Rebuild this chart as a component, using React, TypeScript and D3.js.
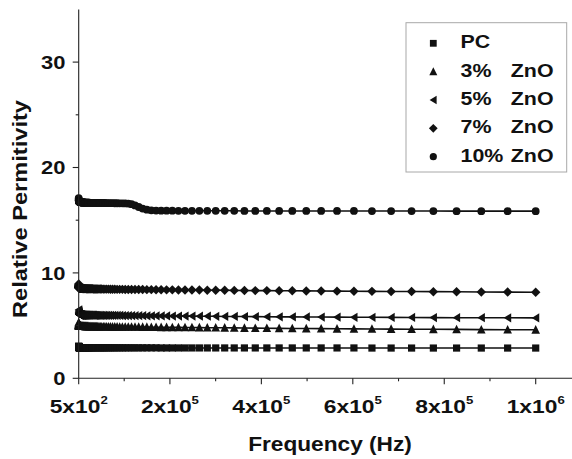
import React from "react";
import * as d3 from "d3";

// Frequency sweep of the impedance analyser (logarithmic, 500 Hz to 1 MHz)
const FREQ_START = 500;
const FREQ_STOP = 1e6;

const SERIES_NAMES = ["PC", "3%  ZnO", "5%  ZnO", "7%  ZnO", "10% ZnO"];

const PC = [
  3.05, 3.02, 3.0, 2.99, 2.98, 2.97, 2.96, 2.96, 2.95, 2.95, 2.94,
  2.94, 2.94, 2.93, 2.93, 2.93, 2.92, 2.92, 2.92, 2.92, 2.91, 2.91,
  2.91, 2.91, 2.91, 2.91, 2.9, 2.9, 2.9, 2.9, 2.9, 2.9, 2.9,
  2.9, 2.9, 2.9, 2.9, 2.9, 2.9, 2.9, 2.9, 2.9, 2.9, 2.9,
  2.9, 2.9, 2.9, 2.9, 2.9, 2.9, 2.9, 2.9, 2.9, 2.9, 2.9,
  2.9, 2.9, 2.9, 2.9, 2.9, 2.9, 2.9, 2.9, 2.9, 2.9, 2.9,
  2.9, 2.9, 2.9, 2.9, 2.9, 2.89, 2.89, 2.89, 2.89, 2.89, 2.89,
  2.89, 2.89, 2.89, 2.89, 2.89, 2.89, 2.89, 2.89, 2.89, 2.89, 2.89,
  2.89, 2.89, 2.89, 2.89, 2.89, 2.88, 2.88, 2.88, 2.88, 2.88, 2.88,
  2.88, 2.88, 2.88, 2.88, 2.88, 2.88, 2.88, 2.88, 2.88, 2.88, 2.88,
  2.88, 2.88, 2.88, 2.87, 2.87, 2.87, 2.87, 2.87, 2.87, 2.87, 2.87,
];

const ZNO_3 = [
  5.3, 5.22, 5.16, 5.12, 5.09, 5.07, 5.05, 5.04, 5.03, 5.02, 5.01,
  5.0, 5.0, 4.99, 4.99, 4.99, 4.98, 4.98, 4.98, 4.98, 4.97, 4.97,
  4.97, 4.97, 4.97, 4.97, 4.96, 4.96, 4.96, 4.96, 4.96, 4.96, 4.96,
  4.96, 4.96, 4.95, 4.95, 4.95, 4.95, 4.95, 4.95, 4.95, 4.95, 4.95,
  4.95, 4.95, 4.94, 4.94, 4.94, 4.94, 4.94, 4.94, 4.94, 4.93, 4.93,
  4.93, 4.93, 4.93, 4.93, 4.93, 4.92, 4.92, 4.92, 4.92, 4.92, 4.92,
  4.92, 4.91, 4.91, 4.91, 4.91, 4.91, 4.9, 4.9, 4.9, 4.9, 4.9,
  4.9, 4.89, 4.89, 4.89, 4.89, 4.88, 4.88, 4.88, 4.88, 4.87, 4.87,
  4.87, 4.86, 4.86, 4.85, 4.85, 4.84, 4.84, 4.83, 4.83, 4.82, 4.82,
  4.81, 4.8, 4.8, 4.79, 4.78, 4.77, 4.76, 4.75, 4.74, 4.73, 4.72,
  4.71, 4.7, 4.69, 4.68, 4.67, 4.66, 4.65, 4.64, 4.62, 4.61, 4.6,
];

const ZNO_5 = [
  6.5, 6.4, 6.32, 6.26, 6.22, 6.18, 6.15, 6.13, 6.12, 6.1, 6.09,
  6.08, 6.07, 6.07, 6.06, 6.06, 6.05, 6.05, 6.05, 6.04, 6.04, 6.04,
  6.04, 6.03, 6.03, 6.03, 6.03, 6.03, 6.02, 6.02, 6.02, 6.02, 6.02,
  6.02, 6.02, 6.01, 6.01, 6.01, 6.01, 6.01, 6.01, 6.01, 6.0, 6.0,
  6.0, 6.0, 6.0, 6.0, 6.0, 6.0, 6.0, 6.0, 6.0, 6.0, 6.0,
  6.0, 6.0, 6.0, 5.99, 5.99, 5.99, 5.99, 5.99, 5.99, 5.99, 5.99,
  5.99, 5.98, 5.98, 5.98, 5.98, 5.98, 5.98, 5.97, 5.97, 5.97, 5.97,
  5.97, 5.97, 5.96, 5.96, 5.96, 5.96, 5.95, 5.95, 5.95, 5.95, 5.94,
  5.94, 5.94, 5.93, 5.93, 5.93, 5.92, 5.92, 5.91, 5.91, 5.9, 5.9,
  5.89, 5.89, 5.88, 5.87, 5.87, 5.86, 5.85, 5.84, 5.83, 5.83, 5.82,
  5.81, 5.8, 5.79, 5.79, 5.78, 5.77, 5.76, 5.75, 5.75, 5.74, 5.73,
];

const ZNO_7 = [
  8.95, 8.85, 8.78, 8.73, 8.7, 8.67, 8.65, 8.64, 8.63, 8.62, 8.61,
  8.61, 8.6, 8.6, 8.59, 8.59, 8.59, 8.58, 8.58, 8.58, 8.57, 8.57,
  8.57, 8.57, 8.56, 8.56, 8.56, 8.56, 8.56, 8.55, 8.55, 8.55, 8.55,
  8.55, 8.55, 8.54, 8.54, 8.54, 8.54, 8.54, 8.53, 8.53, 8.53, 8.53,
  8.53, 8.53, 8.52, 8.52, 8.52, 8.52, 8.52, 8.51, 8.51, 8.51, 8.51,
  8.51, 8.5, 8.5, 8.5, 8.5, 8.5, 8.49, 8.49, 8.49, 8.49, 8.49,
  8.48, 8.48, 8.48, 8.48, 8.47, 8.47, 8.47, 8.47, 8.46, 8.46, 8.46,
  8.46, 8.45, 8.45, 8.45, 8.44, 8.44, 8.44, 8.43, 8.43, 8.43, 8.42,
  8.42, 8.42, 8.41, 8.41, 8.4, 8.4, 8.39, 8.39, 8.38, 8.38, 8.37,
  8.37, 8.36, 8.35, 8.35, 8.34, 8.33, 8.32, 8.32, 8.31, 8.3, 8.29,
  8.28, 8.27, 8.26, 8.25, 8.24, 8.23, 8.22, 8.21, 8.19, 8.18, 8.17,
];

const ZNO_10 = [
  17.1, 17.0, 16.94, 16.9, 16.87, 16.85, 16.83, 16.82, 16.81, 16.8, 16.79,
  16.79, 16.78, 16.78, 16.77, 16.77, 16.76, 16.76, 16.76, 16.75, 16.75, 16.75,
  16.74, 16.74, 16.74, 16.73, 16.73, 16.73, 16.73, 16.72, 16.72, 16.72, 16.72,
  16.71, 16.71, 16.71, 16.71, 16.7, 16.7, 16.7, 16.7, 16.7, 16.69, 16.69,
  16.69, 16.69, 16.69, 16.68, 16.68, 16.68, 16.68, 16.68, 16.67, 16.67, 16.67,
  16.67, 16.67, 16.66, 16.66, 16.66, 16.66, 16.66, 16.65, 16.65, 16.65, 16.65,
  16.65, 16.64, 16.64, 16.64, 16.64, 16.64, 16.63, 16.63, 16.63, 16.63, 16.62,
  16.62, 16.62, 16.62, 16.61, 16.61, 16.6, 16.6, 16.59, 16.58, 16.52, 16.4,
  16.25, 16.1, 16.0, 15.94, 15.91, 15.9, 15.9, 15.9, 15.89, 15.89, 15.89,
  15.89, 15.89, 15.89, 15.89, 15.89, 15.88, 15.88, 15.88, 15.88, 15.88, 15.88,
  15.88, 15.88, 15.88, 15.87, 15.87, 15.87, 15.87, 15.86, 15.86, 15.86, 15.86,
];

const X_TICKS = [500, 2e5, 4e5, 6e5, 8e5, 1e6];
const X_TICK_MANTISSA = ["5", "2", "4", "6", "8", "1"];
const X_TICK_EXPONENT = ["2", "5", "5", "5", "5", "6"];
const X_MINOR_TICKS = [1e5, 3e5, 5e5, 7e5, 9e5, 1.1e6];
const Y_TICKS = [0, 10, 20, 30];
const Y_MINOR_TICKS = [5, 15, 25];

const W = 572;
const H = 459;
const FONT = "'Liberation Sans', Arial, Helvetica, sans-serif";
const INK = "#111";

type ShapeFn = (r: number) => string;

// Marker outlines, r = half of the marker's extent
const SHAPES: ShapeFn[] = [
  (r) => `M${-r},${-r}H${r}V${r}H${-r}Z`,
  (r) => `M0,${-r * 1.1}L${r},${r * 0.9}L${-r},${r * 0.9}Z`,
  (r) => `M${-r * 0.95},0L${r * 0.85},${-r * 1.1}L${r * 0.85},${r * 1.1}Z`,
  (r) => `M0,${-r * 1.15}L${r * 1.15},0L0,${r * 1.15}L${-r * 1.15},0Z`,
  (r) => `M${r},0A${r},${r} 0 1,1 ${-r},0A${r},${r} 0 1,1 ${r},0Z`,
];
const MARKER_R = [3.6, 4.3, 4.2, 4.1, 3.9];
const LEGEND_R = [3.4, 4.0, 3.9, 3.8, 3.6];

const SERIES_VALUES = [PC, ZNO_3, ZNO_5, ZNO_7, ZNO_10];

function StretchText(props: {
  x: number;
  y: number;
  sx: number;
  size: number;
  anchor?: string;
  children: React.ReactNode;
}) {
  const { x, y, sx, size, anchor = "start", children } = props;
  return (
    <g transform={`translate(${x},${y}) scale(${sx},1)`}>
      <text
        x={0}
        y={0}
        textAnchor={anchor}
        fontFamily={FONT}
        fontWeight="bold"
        fontSize={size}
        fill={INK}
      >
        {children}
      </text>
    </g>
  );
}

export default function App() {
  const x = d3.scaleLinear().domain([FREQ_START, FREQ_STOP]).range([78.7, 535.7]);
  const y = d3.scaleLinear().domain([0, 35]).range([378.3, 9.4]);

  const nPts = PC.length;
  const freqs = d3
    .range(nPts)
    .map((i) => FREQ_START * Math.pow(FREQ_STOP / FREQ_START, i / (nPts - 1)));

  const line = d3
    .line<number>()
    .x((_, i) => x(freqs[i]))
    .y((v) => y(v));

  const xAxisY = y(0);
  const yAxisX = x(FREQ_START);
  const xEnd = x(1.1e6);

  const legendTop = 43.3;
  const legendStep = 28.35;

  return (
    <svg
      width={W}
      height={H}
      viewBox={`0 0 ${W} ${H}`}
      style={{ position: "absolute", left: 0, top: 0, background: "#fff" }}
    >
      <rect x={0} y={0} width={W} height={H} fill="#fff" />

      {/* series */}
      {SERIES_VALUES.map((vals, s) => (
        <g key={SERIES_NAMES[s]}>
          <path d={line(vals) || ""} fill="none" stroke={INK} strokeWidth={1.6} />
          {vals.map((v, i) => (
            <path
              key={i}
              d={SHAPES[s](MARKER_R[s])}
              transform={`translate(${x(freqs[i])},${y(v)})`}
              fill={INK}
            />
          ))}
        </g>
      ))}

      {/* y axis */}
      <line x1={yAxisX} x2={yAxisX} y1={y(35)} y2={xAxisY} stroke="#222" strokeWidth={1.1} />
      {Y_TICKS.map((t) => (
        <g key={`yt${t}`}>
          <line x1={yAxisX - 6} x2={yAxisX} y1={y(t)} y2={y(t)} stroke="#222" strokeWidth={1.1} />
          <StretchText x={65.5} y={y(t) + 6.7} sx={1.18} size={18.6} anchor="end">
            {t}
          </StretchText>
        </g>
      ))}
      {Y_MINOR_TICKS.map((t) => (
        <line key={`ym${t}`} x1={yAxisX - 3} x2={yAxisX} y1={y(t)} y2={y(t)} stroke="#222" strokeWidth={1.1} />
      ))}

      {/* x axis */}
      <line x1={yAxisX} x2={xEnd} y1={xAxisY} y2={xAxisY} stroke="#222" strokeWidth={1.1} />
      {X_TICKS.map((t, i) => (
        <g key={`xt${t}`}>
          <line x1={x(t)} x2={x(t)} y1={xAxisY} y2={xAxisY + 6} stroke="#222" strokeWidth={1.1} />
          <StretchText x={x(t)} y={413} sx={1.2} size={19} anchor="middle">
            <tspan>{`${X_TICK_MANTISSA[i]}x10`}</tspan>
            <tspan dy={-9} fontSize={11}>
              {X_TICK_EXPONENT[i]}
            </tspan>
          </StretchText>
        </g>
      ))}
      {X_MINOR_TICKS.map((t) => (
        <line key={`xm${t}`} x1={x(t)} x2={x(t)} y1={xAxisY} y2={xAxisY + 3} stroke="#222" strokeWidth={1.1} />
      ))}

      {/* axis titles */}
      <StretchText x={330} y={451} sx={1.08} size={21} anchor="middle">
        Frequency (Hz)
      </StretchText>
      <g transform="translate(27,209) rotate(-90)">
        <text
          x={0}
          y={0}
          textAnchor="middle"
          fontFamily={FONT}
          fontWeight="bold"
          fontSize={21}
          fill={INK}
          textLength={218}
          lengthAdjust="spacingAndGlyphs"
        >
          Relative Permitivity
        </text>
      </g>

      {/* legend */}
      <rect x={406} y={22.7} width={160.7} height={149.3} fill="#fff" stroke="#a8a8a8" strokeWidth={1} />
      {SERIES_NAMES.map((name, s) => {
        const ly = legendTop + s * legendStep;
        const parts = name.split(/\s+/);
        return (
          <g key={`lg${s}`}>
            <path d={SHAPES[s](LEGEND_R[s])} transform={`translate(433.3,${ly})`} fill={INK} />
            <StretchText x={460.5} y={ly + 5} sx={1.15} size={18.6}>
              {parts[0]}
            </StretchText>
            {parts[1] && (
              <StretchText x={510.8} y={ly + 5} sx={1.15} size={18.6}>
                {parts[1]}
              </StretchText>
            )}
          </g>
        );
      })}
    </svg>
  );
}
